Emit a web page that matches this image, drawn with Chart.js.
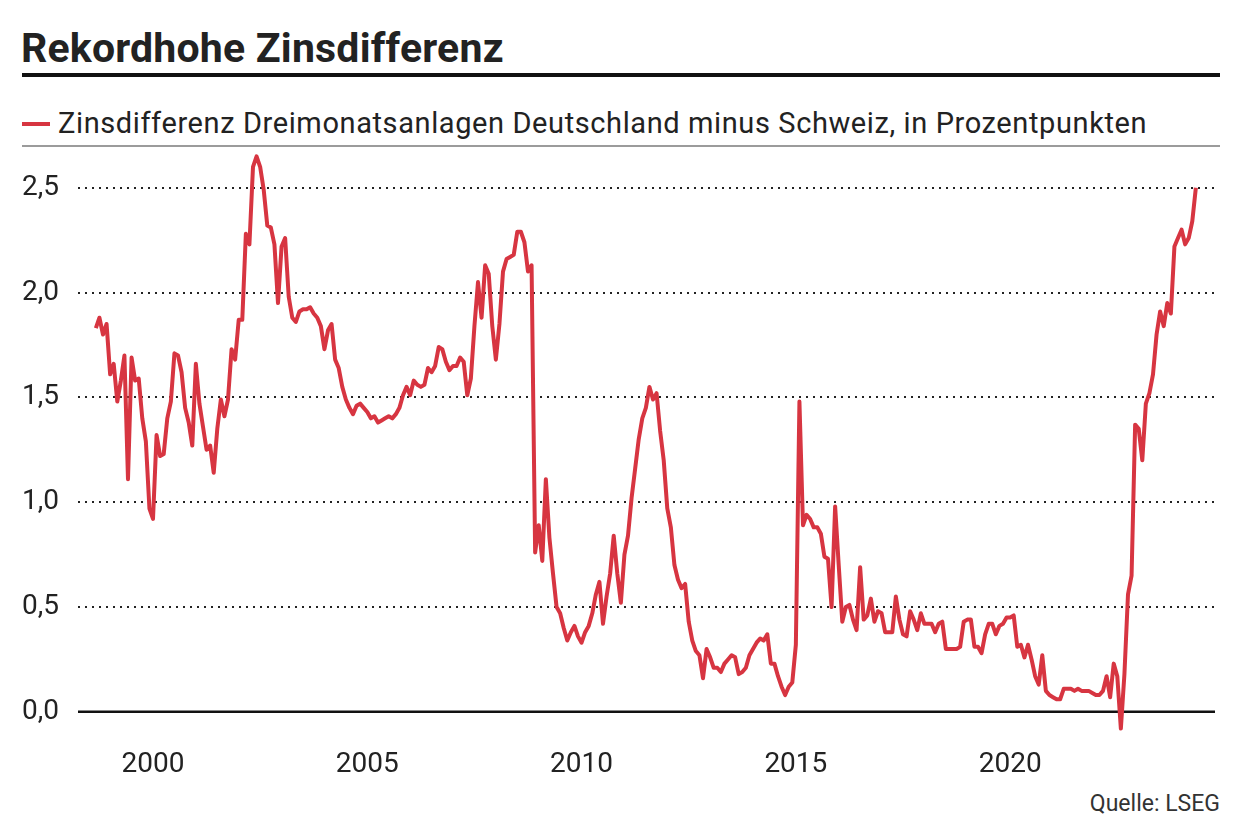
<!DOCTYPE html>
<html lang="de">
<head>
<meta charset="utf-8">
<title>Rekordhohe Zinsdifferenz</title>
<script src="https://cdn.jsdelivr.net/npm/chart.js@4/dist/chart.umd.min.js"></script>
<style>
  html, body { margin: 0; padding: 0; background: #fff; }
  body { width: 1240px; height: 840px; position: relative; overflow: hidden;
         font-family: Roboto, "Noto Sans", sans-serif; color: #222; }
  #titel { position: absolute; left: 21px; top: 25px; font-size: 41px; font-weight: 700;
           letter-spacing: 0.2px; line-height: 46px; }
  #linieOben { position: absolute; left: 22px; top: 73px; width: 1198px; height: 4px; background: #111; }
  #legendeStrich { position: absolute; left: 22px; top: 122px; width: 28px; height: 4px; background: #d73541; }
  #legende { position: absolute; left: 58px; top: 105px; font-size: 29px; letter-spacing: 0.6px;
             line-height: 36px; color: #222; }
  #linieGrau { position: absolute; left: 22px; top: 145px; width: 1198px; height: 2px; background: #9b9b9b; }
  #quelle { position: absolute; right: 20px; top: 790px; font-size: 23px; color: #333; }
  #box { position: absolute; left: 0; top: 140px; width: 1240px; height: 647px; }
</style>
</head>
<body>
<div id="titel">Rekordhohe Zinsdifferenz</div>
<div id="linieOben"></div>
<div id="legendeStrich"></div>
<div id="legende">Zinsdifferenz Dreimonatsanlagen Deutschland minus Schweiz, in Prozentpunkten</div>
<div id="linieGrau"></div>
<div id="box"><canvas id="zinsChart"></canvas></div>
<div id="quelle">Quelle: LSEG</div>

<script>
// Monatswerte ab September 1998
const startJahr = 1998;
const startMonat = 9;

const differenz = [
  1.83, 1.88, 1.80, 1.85, 1.61, 1.66, 1.48, 1.58, 1.70, 1.11,
  1.69, 1.58, 1.59, 1.40, 1.29, 0.97, 0.92, 1.32, 1.22, 1.23,
  1.40, 1.48, 1.71, 1.70, 1.62, 1.45, 1.38, 1.27, 1.66, 1.47,
  1.36, 1.25, 1.27, 1.14, 1.35, 1.49, 1.41, 1.49, 1.73, 1.68,
  1.87, 1.87, 2.28, 2.23, 2.60, 2.65, 2.60, 2.49, 2.32, 2.31,
  2.23, 1.95, 2.22, 2.26, 1.98, 1.88, 1.86, 1.91, 1.92, 1.92,
  1.93, 1.90, 1.88, 1.84, 1.73, 1.82, 1.85, 1.68, 1.64, 1.55,
  1.49, 1.45, 1.42, 1.46, 1.47, 1.45, 1.43, 1.40, 1.41, 1.38,
  1.39, 1.40, 1.41, 1.40, 1.42, 1.45, 1.51, 1.55, 1.51, 1.58,
  1.56, 1.55, 1.56, 1.64, 1.62, 1.65, 1.74, 1.73, 1.67, 1.63,
  1.65, 1.65, 1.69, 1.67, 1.51, 1.59, 1.84, 2.05, 1.88, 2.13,
  2.09, 1.84, 1.68, 1.85, 2.10, 2.16, 2.17, 2.18, 2.29, 2.29,
  2.24, 2.10, 2.13, 0.76, 0.89, 0.72, 1.11, 0.83, 0.66, 0.50,
  0.47, 0.40, 0.34, 0.38, 0.41, 0.36, 0.33, 0.38, 0.41, 0.47,
  0.56, 0.62, 0.42, 0.55, 0.66, 0.84, 0.66, 0.52, 0.75, 0.84,
  1.02, 1.16, 1.30, 1.40, 1.45, 1.55, 1.49, 1.52, 1.34, 1.20,
  0.97, 0.88, 0.70, 0.63, 0.59, 0.61, 0.43, 0.34, 0.29, 0.27,
  0.16, 0.30, 0.26, 0.21, 0.21, 0.19, 0.23, 0.25, 0.27, 0.26,
  0.18, 0.19, 0.21, 0.27, 0.30, 0.33, 0.35, 0.34, 0.37, 0.23,
  0.23, 0.17, 0.12, 0.08, 0.12, 0.14, 0.32, 1.48, 0.89, 0.94,
  0.92, 0.88, 0.88, 0.85, 0.74, 0.73, 0.50, 0.98, 0.70, 0.43,
  0.50, 0.51, 0.44, 0.39, 0.69, 0.44, 0.46, 0.54, 0.43, 0.48,
  0.47, 0.38, 0.38, 0.38, 0.55, 0.44, 0.37, 0.36, 0.48, 0.44,
  0.39, 0.47, 0.42, 0.42, 0.42, 0.38, 0.42, 0.43, 0.30, 0.30,
  0.30, 0.30, 0.31, 0.43, 0.44, 0.44, 0.31, 0.31, 0.28, 0.37,
  0.42, 0.42, 0.37, 0.41, 0.42, 0.45, 0.45, 0.46, 0.31, 0.32,
  0.26, 0.32, 0.25, 0.17, 0.13, 0.27, 0.10, 0.08, 0.07, 0.06,
  0.06, 0.11, 0.11, 0.11, 0.10, 0.11, 0.10, 0.10, 0.10, 0.09,
  0.08, 0.08, 0.10, 0.17, 0.07, 0.23, 0.17, -0.08, 0.18, 0.56,
  0.65, 1.37, 1.35, 1.20, 1.47, 1.52, 1.61, 1.80, 1.91, 1.84,
  1.95, 1.90, 2.22, 2.26, 2.30, 2.23, 2.26, 2.34, 2.50
];

const jahresTicks = [2000, 2005, 2010, 2015, 2020];
const wertTicks = [0, 0.5, 1, 1.5, 2, 2.5];

// Monatsindex -> Jahr als Dezimalzahl
const punkte = differenz.map((wert, i) => ({
  x: startJahr + (startMonat - 1 + i) / 12,
  y: wert
}));

// Nulllinie durchgezogen
const nullLinie = {
  id: "nullLinie",
  beforeDatasetsDraw(chart) {
    const { ctx, chartArea, scales } = chart;
    const y = scales.y.getPixelForValue(0);
    ctx.save();
    ctx.strokeStyle = "#111";
    ctx.lineWidth = 2.5;
    ctx.beginPath();
    ctx.moveTo(chartArea.left, y);
    ctx.lineTo(chartArea.right, y);
    ctx.stroke();
    ctx.restore();
  }
};

const ctx = document.getElementById("zinsChart").getContext("2d");

new Chart(ctx, {
  type: "line",
  data: {
    datasets: [{
      label: "Zinsdifferenz",
      data: punkte,
      borderColor: "#d73541",
      borderWidth: 4,
      pointRadius: 0,
      tension: 0,
      borderJoinStyle: "round"
    }]
  },
  options: {
    responsive: true,
    maintainAspectRatio: false,
    animation: false,
    layout: { padding: { top: 10, left: 22, right: 25, bottom: 0 } },
    plugins: {
      legend: { display: false },
      tooltip: { enabled: false }
    },
    scales: {
      x: {
        type: "linear",
        min: 1998.25,
        max: 2024.78,
        afterBuildTicks: scale => {
          scale.ticks = jahresTicks.map(v => ({ value: v }));
        },
        afterFit: scale => {
          scale.height = 50;
          scale.paddingLeft = 0;
          scale.paddingRight = 0;
        },
        grid: { display: false },
        border: { display: false },
        ticks: {
          color: "#222",
          font: { family: "Roboto", size: 28 },
          padding: 3,
          callback: v => String(v)
        }
      },
      y: {
        min: -0.12,
        max: 2.68,
        afterBuildTicks: scale => {
          scale.ticks = wertTicks.map(v => ({ value: v }));
        },
        afterFit: scale => {
          scale.width = 56;
          scale.paddingTop = 0;
          scale.paddingBottom = 0;
        },
        grid: {
          color: ctx => (ctx.tick && ctx.tick.value === 0 ? "rgba(0,0,0,0)" : "#222"),
          lineWidth: 2,
          drawTicks: false
        },
        border: { display: false, dash: [2, 5] },
        ticks: {
          color: "#222",
          font: { family: "Roboto", size: 28 },
          padding: 16,
          crossAlign: "far",
          callback: v => v.toFixed(1).replace(".", ",")
        }
      }
    }
  },
  plugins: [nullLinie]
});
</script>
</body>
</html>
